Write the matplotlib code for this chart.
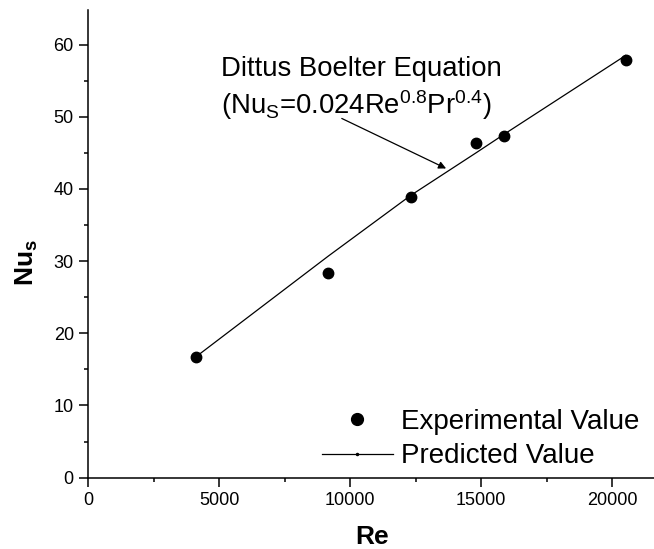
import matplotlib
matplotlib.use("Agg")
import matplotlib.pyplot as plt
from matplotlib.lines import Line2D
from matplotlib.ticker import MultipleLocator

plt.rcParams['font.family'] = ['Liberation Sans', 'DejaVu Sans']
plt.rcParams['mathtext.fontset'] = 'custom'
plt.rcParams['mathtext.rm'] = 'Liberation Sans'
plt.rcParams['mathtext.it'] = 'Liberation Sans:italic'
plt.rcParams['mathtext.bf'] = 'Liberation Sans:bold'

# Reynolds numbers of the test runs
re_values = [4122, 9172, 12315, 14809, 15891, 20521]
# Measured Nusselt numbers
nu_experimental = [16.75, 28.4, 38.9, 46.3, 47.3, 57.8]
# Dittus-Boelter prediction at the same Reynolds numbers
nu_predicted = [16.75, 30.7, 39.1, 45.0, 47.6, 58.5]

x_ticks = [0, 5000, 10000, 15000, 20000]
y_ticks = [0, 10, 20, 30, 40, 50, 60]

fig = plt.figure(figsize=(6.54, 5.49), dpi=100)
ax = fig.add_axes([0.1346, 0.130, 0.8695, 0.852])

ax.plot(re_values, nu_predicted, color='black', lw=0.9, zorder=2)
ax.plot(re_values, nu_experimental, linestyle='none', marker='o',
        markersize=7.5, color='black', zorder=3)

ax.set_xlim(0, 21700)
ax.set_ylim(0, 64.8)
ax.set_xticks(x_ticks)
ax.set_yticks(y_ticks)
ax.xaxis.set_minor_locator(MultipleLocator(2500))
ax.yaxis.set_minor_locator(MultipleLocator(5))

for side in ('top', 'right'):
    ax.spines[side].set_visible(False)
for side in ('left', 'bottom'):
    ax.spines[side].set_linewidth(1.1)

ax.tick_params(which='major', direction='out', length=6.2, width=1.1,
               labelsize=13, pad=4)
ax.tick_params(which='minor', direction='out', length=3.2, width=1.1)

ax.set_xlabel('Re', fontsize=19, fontweight='bold', labelpad=12)
ax.set_ylabel(r'$\mathbf{Nu_s}$', fontsize=19)
ax.yaxis.set_label_coords(-0.085, 0.46)

ax.text(5076, 55.7, 'Dittus Boelter Equation', fontsize=19.8,
        va='baseline', ha='left')
ax.text(5076, 50.35,
        r'(Nu$_\mathrm{S}$=0.024Re$^{\mathrm{0.8}}$Pr$^{\mathrm{0.4}}$)',
        fontsize=19.8, va='baseline', ha='left')
ax.annotate('', xy=(13664, 42.83), xytext=(9683, 49.76),
            arrowprops=dict(arrowstyle='-|>', color='black', lw=0.9,
                            mutation_scale=11, shrinkA=0, shrinkB=0))

legend_handles = [
    Line2D([], [], linestyle='none', marker='o', markersize=8.5, color='black'),
    Line2D([], [], color='black', lw=0.9, marker='.', markersize=3),
]
ax.legend(legend_handles, ['Experimental Value', 'Predicted Value'],
          loc='lower left', bbox_to_anchor=(0.382, -0.018), frameon=False,
          fontsize=20, handlelength=2.55, handletextpad=0.3,
          labelspacing=0.3, borderaxespad=0.2)

fig.savefig('out.png', dpi=100)
